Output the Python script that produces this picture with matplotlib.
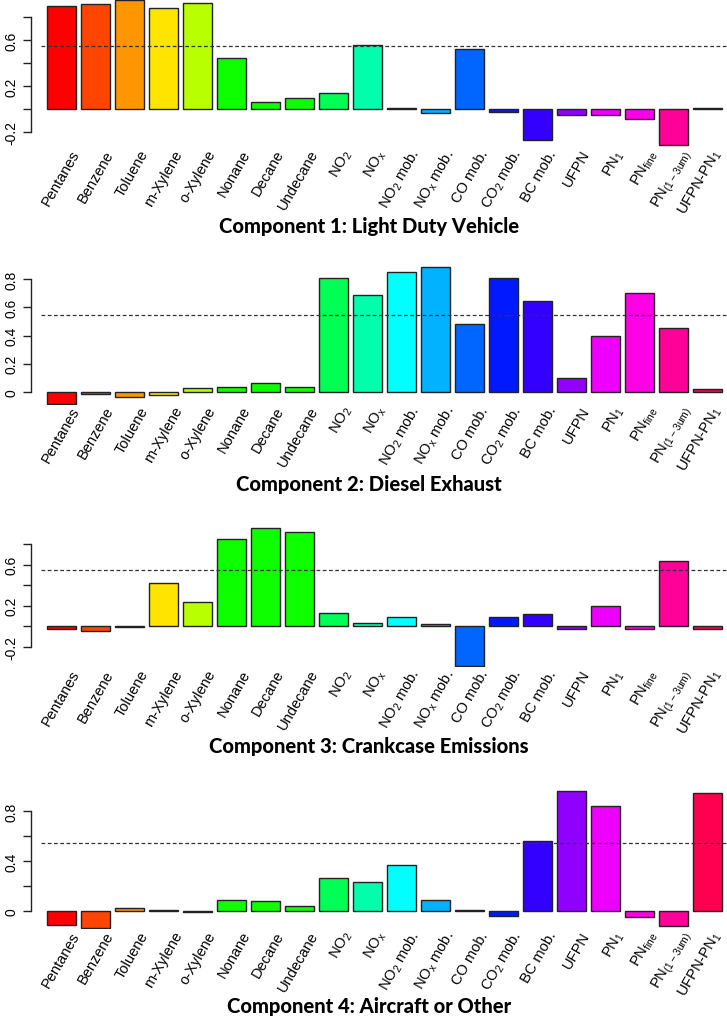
import matplotlib
matplotlib.use('Agg')
import matplotlib.pyplot as plt
import matplotlib.transforms as mtransforms
import numpy as np

plt.rcParams['font.family'] = ['Liberation Sans', 'DejaVu Sans']
plt.rcParams['mathtext.default'] = 'regular'

# ---------------- data ----------------
categories = ['Pentanes', 'Benzene', 'Toluene', 'm-Xylene', 'o-Xylene', 'Nonane',
              'Decane', 'Undecane', r'NO$_2$', r'NO$_x$', r'NO$_2$ mob.', r'NO$_x$ mob.',
              'CO mob.', r'CO$_2$ mob.', 'BC mob.', 'UFPN', r'PN$_1$', r'PN$_{fine}$',
              r'PN$_{(1-3um)}$', r'UFPN-PN$_1$']

comp1 = [0.900, 0.916, 0.950, 0.878, 0.920, 0.440, 0.063, 0.093, 0.137, 0.556,
         0.003, -0.037, 0.519, -0.032, -0.270, -0.050, -0.052, -0.093, -0.313, 0.005]
comp2 = [-0.090, -0.019, -0.040, -0.024, 0.026, 0.031, 0.064, 0.031, 0.807, 0.688,
         0.849, 0.890, 0.482, 0.807, 0.645, 0.095, 0.394, 0.705, 0.451, 0.017]
comp3 = [-0.029, -0.042, -0.003, 0.423, 0.234, 0.851, 0.958, 0.922, 0.133, 0.033,
         0.094, 0.026, -0.387, 0.094, 0.117, -0.023, 0.195, -0.023, 0.634, -0.023]
comp4 = [-0.107, -0.136, 0.027, 0.013, -0.005, 0.088, 0.085, 0.043, 0.264, 0.232,
         0.371, 0.093, 0.013, -0.035, 0.565, 0.965, 0.843, -0.045, -0.120, 0.947]

titles = ['Component 1: Light Duty Vehicle', 'Component 2: Diesel Exhaust',
          'Component 3: Crankcase Emissions', 'Component 4: Aircraft or Other']

threshold = 0.545

bar_colors = ['#FF0000', '#FF4500', '#FF9500', '#FFE400', '#B8FF00', '#0DFF00',
              '#0DFF00', '#0DFF00', '#00FF55', '#00FFAA', '#00FFFF', '#00B2FF',
              '#0066FF', '#0019FF', '#3300FF', '#9000FF', '#EE00FF', '#FF00E6',
              '#FF0099', '#FF0050']

# y ticks per panel
ticks1 = [-0.2, 0.0, 0.2, 0.4, 0.6, 0.8]
tlab1 = ['-0.2', '', '0.2', '', '0.6', '']
ticks2 = [0.0, 0.2, 0.4, 0.6, 0.8]
tlab2 = ['0', '0.2', '0.4', '0.6', '0.8']
ticks4 = [0.0, 0.2, 0.4, 0.6, 0.8]
tlab4 = ['0', '', '0.4', '', '0.8']

# ---------------- layout (pixels) ----------------
W, H, DPI = 727, 1020, 100
fig = plt.figure(figsize=(W / DPI, H / DPI), dpi=DPI)

panels = [
    # values, zero_px, px_per_unit, top_px, bottom_px, label_top_px, title_base_px, ticks, labels
    (comp1, 109.8, 114.6, 0, 148, 150, 233, ticks1, tlab1),
    (comp2, 392.7, 140.5, 262, 406, 406.5, 491, ticks2, tlab2),
    (comp3, 627.2, 102.5, 528, 668, 670, 753, ticks1, tlab1),
    (comp4, 912.3, 125.0, 790, 930, 931.5, 1013, ticks4, tlab4),
]

left_px, right_px = 31, 727
x0_px, step_px = 61.55, 34.0
xlim = ((left_px - x0_px) / step_px, (right_px - x0_px) / step_px)
dash_start = (41 - x0_px) / step_px
x = np.arange(len(categories))

for k, (vals, zero, ppu, top, bot, ltop, tbase, ticks, tlabels) in enumerate(panels):
    ax = fig.add_axes([left_px / W, 1 - bot / H, (right_px - left_px) / W, (bot - top) / H])
    ax.set_xlim(*xlim)
    ax.set_ylim(-(bot - zero) / ppu, (zero - top) / ppu)
    ax.patch.set_alpha(0)
    ax.bar(x, vals, width=28.5 / 34.0, color=bar_colors, edgecolor='#222222',
           linewidth=1.0, zorder=2)
    ax.plot([dash_start, xlim[1]], [threshold, threshold], ls=(0, (3, 2)),
            color='#333333', lw=0.9, zorder=3)
    for s in ['top', 'right', 'bottom']:
        ax.spines[s].set_visible(False)
    ax.spines['left'].set_bounds(ticks[0], ticks[-1])
    ax.spines['left'].set_color('#222222')
    ax.spines['left'].set_linewidth(1.0)
    ax.set_xticks([])
    ax.set_yticks(ticks)
    ax.set_yticklabels(tlabels, rotation=90, va='center')
    ax.tick_params(axis='y', length=5.8, width=1.0, pad=3.5, labelsize=10,
                   color='#222222')
    trans = mtransforms.blended_transform_factory(ax.transData, fig.transFigure)
    for i, lab in enumerate(categories):
        off = 15 if i < len(categories) - 1 else 10.5
        ax.text(i + off / step_px, 1 - (ltop + 1.5) / H, lab, transform=trans,
                rotation=60, ha='right', va='center', rotation_mode='anchor',
                fontsize=10.5, clip_on=False)
    fig.text(369 / W, 1 - tbase / H, titles[k], ha='center', va='baseline',
             fontsize=14.5, fontweight='black', family=['Lato', 'DejaVu Sans'])

fig.savefig('out.png', dpi=DPI)
